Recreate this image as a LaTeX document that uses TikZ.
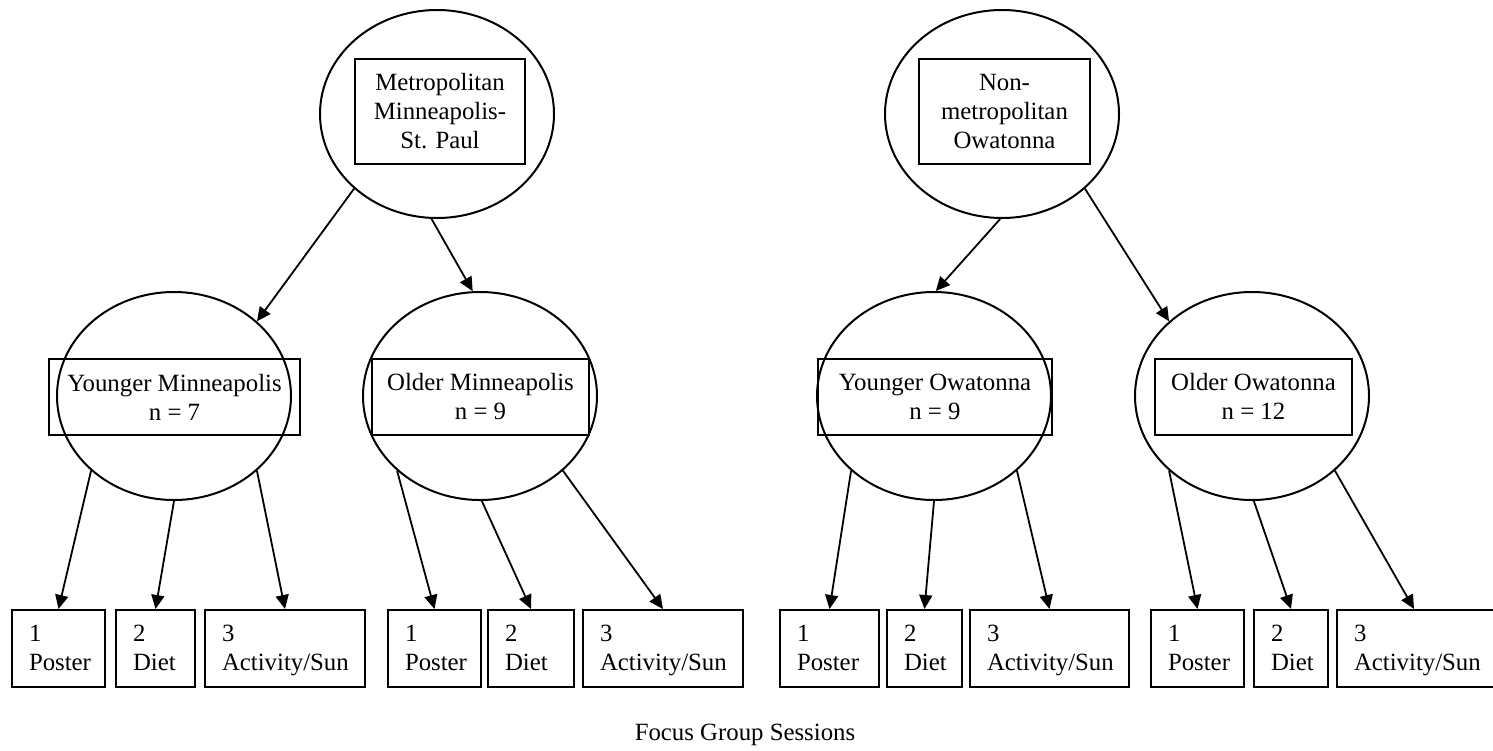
\documentclass[tikz,border=0pt]{standalone}
\usepackage{fontspec}
\setmainfont{Liberation Serif}
\usetikzlibrary{shapes.geometric,arrows.meta}
\begin{document}
\begin{tikzpicture}[x=0.5pt,y=-0.5pt,
  every node/.style={font=\fontsize{12.4}{14.5}\selectfont},
  ell/.style={draw, ellipse, line width=1pt, inner sep=0pt, minimum width=117pt, minimum height=104pt},
  topbox/.style={draw, line width=1pt, align=center, inner sep=0pt, minimum height=52.5pt, minimum width=#1},
  midbox/.style={draw, line width=1pt, align=center, inner sep=0pt, minimum height=38pt, minimum width=#1},
  leaf/.style={draw, line width=1pt, anchor=north west, align=left, inner xsep=8.5pt, inner ysep=0pt, minimum height=38.5pt, text depth=14.8pt, text width=#1},
  arr/.style={line width=0.9pt, -{Triangle[length=7pt,width=6.5pt]}}
]
\useasboundingbox (0,0) rectangle (1493,750);

% top level
\node[ell] (metro) at (437,114) {};
\node[topbox=85pt] (metrobox) at (440,111.5) {Metropolitan\\Minneapolis-\\St. Paul};
\node[ell] (nonmetro) at (1002,114) {};
\node[topbox=85.5pt] (nonbox) at (1004.5,111.5) {Non-\\metropolitan\\Owatonna};

% second level
\node[ell] (ym) at (174,396) {};
\node[midbox=125.5pt] (ymbox) at (174.5,397) {Younger Minneapolis\\n = 7};
\node[ell] (om) at (480,396) {};
\node[midbox=108.5pt] (ombox) at (480.5,397) {Older Minneapolis\\n = 9};
\node[ell] (yo) at (934,396) {};
\node[midbox=117pt] (yobox) at (935,397) {Younger Owatonna\\n = 9};
\node[ell] (oo) at (1252,396) {};
\node[midbox=98.5pt] (oobox) at (1253.5,396.5) {Older Owatonna\\n = 12};

% leaves
\node[leaf=29.5pt] (g1p) at (11,609) {1\\Poster};
\node[leaf=22.5pt] (g1d) at (115,609) {2\\Diet};
\node[leaf=63pt]   (g1a) at (204,609) {3\\Activity/Sun};
\node[leaf=29.5pt] (g2p) at (387,609) {1\\Poster};
\node[leaf=26pt]   (g2d) at (487,609) {2\\Diet};
\node[leaf=63pt]   (g2a) at (582,609) {3\\Activity/Sun};
\node[leaf=32.5pt] (g3p) at (779,609) {1\\Poster};
\node[leaf=20.5pt] (g3d) at (886,609) {2\\Diet};
\node[leaf=62.5pt] (g3a) at (969,609) {3\\Activity/Sun};
\node[leaf=29.5pt] (g4p) at (1150,609) {1\\Poster};
\node[leaf=20pt]   (g4d) at (1253,609) {2\\Diet};
\node[leaf=63pt]   (g4a) at (1336,609) {3\\Activity/Sun};

% connectors
\draw[arr] (metro.222) -- (ym.42);
\draw[arr] (metro.267) -- (om.94);
\draw[arr] (nonmetro.269) -- (yo.89);
\draw[arr] (nonmetro.318) -- (oo.138);

\draw[arr] (ym.222) -- (g1p.north);
\draw[arr] (ym.270) -- (g1d.north);
\draw[arr] (ym.318) -- (g1a.north);
\draw[arr] (om.222) -- (g2p.north);
\draw[arr] (om.271) -- (g2d.north);
\draw[arr] (om.318) -- (g2a.north);
\draw[arr] (yo.222) -- (g3p.north);
\draw[arr] (yo.270) -- (g3d.north);
\draw[arr] (yo.318) -- (g3a.north);
\draw[arr] (oo.222) -- (g4p.north);
\draw[arr] (oo.271) -- (g4d.north);
\draw[arr] (oo.318) -- ([xshift=-1.5pt]g4a.north);

\node[anchor=base] (caption) at (745,740) {Focus Group Sessions};
\end{tikzpicture}
\end{document}
